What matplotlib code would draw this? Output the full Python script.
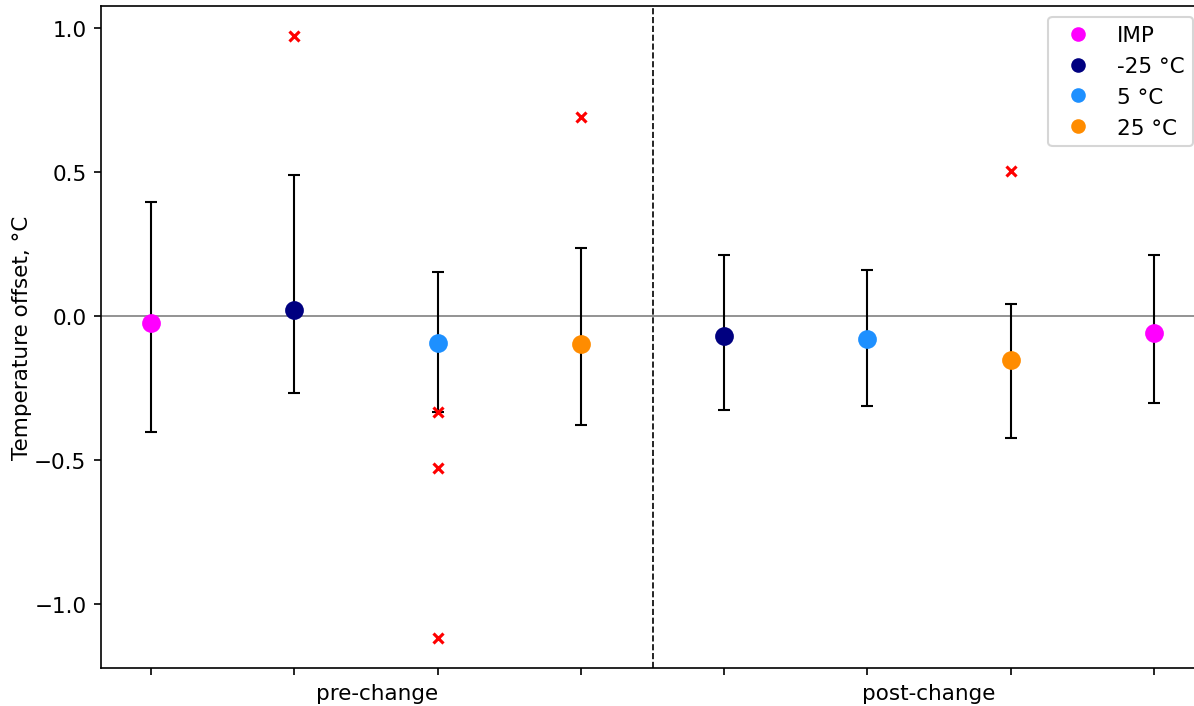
import numpy as np
import matplotlib
matplotlib.use("Agg")
import matplotlib.pyplot as plt
from matplotlib.lines import Line2D

# Data
positions = [1, 2, 3, 4, 5, 6, 7, 8]
means = [-0.024, 0.021, -0.094, -0.097, -0.069, -0.080, -0.153, -0.059]
err_low = [-0.403, -0.267, -0.333, -0.378, -0.326, -0.313, -0.424, -0.302]
err_high = [0.396, 0.490, 0.153, 0.236, 0.212, 0.160, 0.042, 0.212]
series = ["IMP", "-25 °C", "5 °C", "25 °C", "-25 °C", "5 °C", "25 °C", "IMP"]

outlier_x = [2, 3, 3, 3, 4, 7]
outlier_y = [0.972, -0.333, -0.528, -1.118, 0.691, 0.503]

legend_order = ["IMP", "-25 °C", "5 °C", "25 °C"]
colors = {"IMP": "magenta", "-25 °C": "navy", "5 °C": "dodgerblue", "25 °C": "darkorange"}

group_frac = [0.25, 0.75]
group_labels = ["pre-change", "post-change"]

plt.rcParams["font.size"] = 10.3

fig, ax = plt.subplots(figsize=(1194 / 150, 707 / 150), dpi=150)
# axes runs slightly past the right edge, as in the cropped original
fig.subplots_adjust(left=0.0846, right=1204 / 1194, top=0.990, bottom=0.0537)

ax.axhline(0, color="grey", linewidth=0.8, zorder=1)
ax.axvline(4.5, color="black", linestyle="--", linewidth=0.8, zorder=1)

for x, m, lo, hi, s in zip(positions, means, err_low, err_high, series):
    ax.errorbar(x, m, yerr=[[m - lo], [hi - m]], fmt="none", ecolor="black",
                elinewidth=1, capsize=3, capthick=1, zorder=2)
    ax.plot(x, m, "o", color=colors[s], markersize=8, zorder=3)

ax.plot(outlier_x, outlier_y, "x", color="red", markersize=5, mew=1.5, linestyle="none", zorder=4)

handles = [Line2D([], [], marker="o", color=colors[s], linestyle="none", markersize=6) for s in legend_order]
ax.legend(handles, legend_order, loc="upper right")

xmin, xmax = 0.65, 8.35
ax.set_xlim(xmin, xmax)
ax.set_ylim(-1.222, 1.076)
ax.set_xticks(positions)
ax.set_xticklabels([])
ax.set_xticks([xmin + f * (xmax - xmin) for f in group_frac], minor=True)
ax.set_xticklabels(group_labels, minor=True)
ax.tick_params(axis="x", which="minor", length=0, pad=7)
ax.set_ylabel("Temperature offset, °C", labelpad=1)

fig.savefig("out.png", dpi=150)
